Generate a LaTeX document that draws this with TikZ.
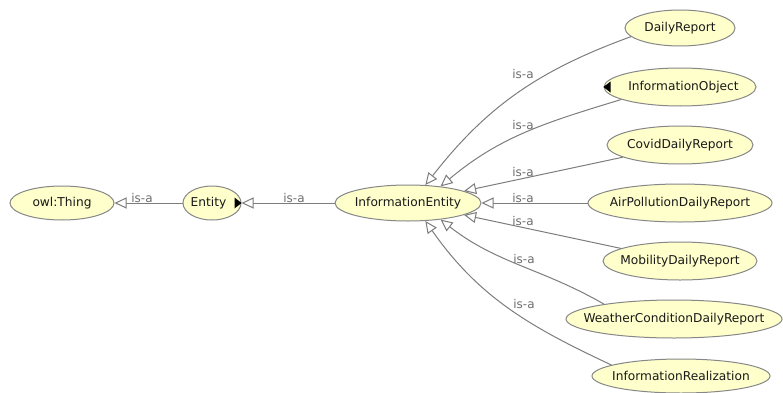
\documentclass[tikz,border=0pt]{standalone}
\usepackage{fontspec}
\setmainfont{DejaVu Sans}
\usetikzlibrary{shapes.geometric,arrows.meta}

\definecolor{clsfill}{RGB}{255,255,204}
\definecolor{clsline}{RGB}{135,135,135}
\definecolor{edgeline}{RGB}{125,125,125}
\definecolor{isalabel}{RGB}{110,110,110}

% class name kept at zero width so the ellipse size is set by the style alone
\newcommand{\clsname}[2][0pt]{\makebox[0pt]{\hspace*{#1}#2}}

\tikzset{
  cls/.style 2 args={ellipse, draw=clsline, fill=clsfill, line width=1pt,
    inner sep=0pt, minimum width=#1, minimum height=#2, text=black!90,
    font=\fontsize{12.2}{14}\selectfont},
  isa/.style={draw=edgeline, line width=1pt,
    -{Triangle[length=12pt,width=11pt,fill=white,line width=1pt]}},
  isatext/.style={text=isalabel, inner sep=0pt, font=\fontsize{12}{14}\selectfont},
  marker/.style={fill=black}
}

\begin{document}
\begin{tikzpicture}[x=1pt,y=1pt]
  \fill[white] (0,0) rectangle (783,392);
  \useasboundingbox (0,0) rectangle (783,392);

  % classes
  \node[cls={104pt}{34pt}] (Thing)  at (62,189)  {\clsname{owl:Thing}};
  \node[cls={58pt}{34pt}]  (Entity) at (212,189) {\clsname[-7pt]{Entity}};
  \node[cls={146pt}{36pt}] (IE)     at (408,189) {\clsname{InformationEntity}};
  \node[cls={110pt}{36pt}] (DR)     at (680,364) {\clsname{DailyReport}};
  \node[cls={152pt}{38pt}] (IO)     at (680,305) {\clsname[7pt]{InformationObject}};
  \node[cls={146pt}{38pt}] (CDR)    at (680,247) {\clsname{CovidDailyReport}};
  \node[cls={184pt}{38pt}] (APDR)   at (680,189) {\clsname{AirPollutionDailyReport}};
  \node[cls={154pt}{38pt}] (MDR)    at (680,131) {\clsname{MobilityDailyReport}};
  \node[cls={216pt}{38pt}] (WCDR)   at (674,73)  {\clsname{WeatherConditionDailyReport}};
  \node[cls={178pt}{34pt}] (IR)     at (681,16)  {\clsname{InformationRealization}};

  % markers for classes with hidden neighbours
  \fill[marker] (Entity.east) -- ++(-7,5.5) -- ++(0,-11) -- cycle;
  \fill[marker] (IO.west) -- ++(7,5.5) -- ++(0,-11) -- cycle;

  % subclass edges
  \draw[isa] (Entity) -- (Thing);
  \draw[isa] (IE) -- (Entity);
  \draw[isa] (DR.190) to[out=200,in=52] (IE.46);
  \draw[isa] (IO.192) to[out=197,in=40] (IE.27);
  \draw[isa] (CDR) -- (IE);
  \draw[isa] (APDR) -- (IE);
  \draw[isa] (MDR) -- (IE);
  \draw[isa] (WCDR.168) to[out=150,in=-38] (IE.-27);
  \draw[isa] (IR.171) to[out=155,in=-55] (IE.-46);

  % edge labels
  \node[isatext] (l1) at (142,194) {is-a};
  \node[isatext] (l2) at (294,194) {is-a};
  \node[isatext] (l3) at (523,318) {is-a};
  \node[isatext] (l4) at (523,267) {is-a};
  \node[isatext] (l5) at (523,220) {is-a};
  \node[isatext] (l6) at (523,194) {is-a};
  \node[isatext] (l7) at (523,171) {is-a};
  \node[isatext] (l8) at (524,133) {is-a};
  \node[isatext] (l9) at (524,88)  {is-a};
\end{tikzpicture}
\end{document}
